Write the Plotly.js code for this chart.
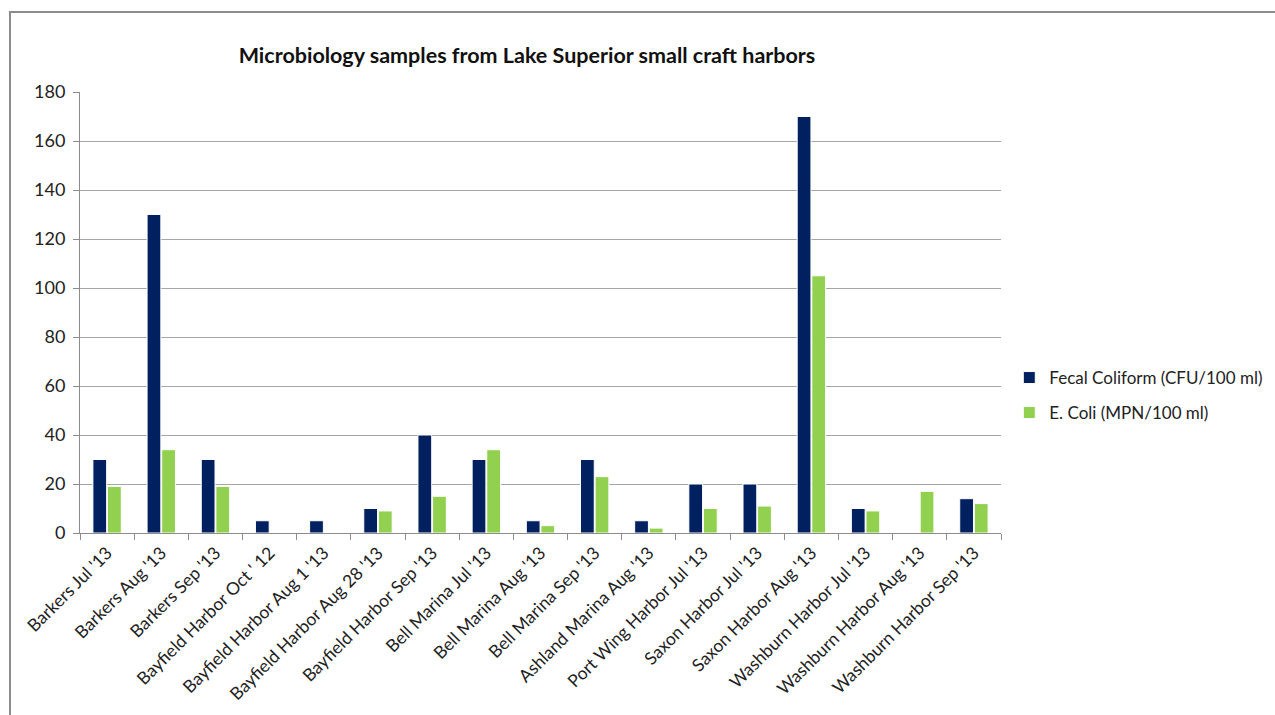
<!DOCTYPE html>
<html>
<head>
<meta charset="utf-8">
<script src="https://cdn.plot.ly/plotly-3.0.1.min.js"></script>
<style>
  html, body { margin: 0; padding: 0; background: #ffffff; overflow: hidden; }
  #frame {
    position: absolute; left: 9px; top: 11px; width: 1400px; height: 900px;
    border-left: 2px solid #8c8c8c; border-top: 2px solid #8c8c8c;
  }
  #chart { position: absolute; left: 0; top: 0; width: 1275px; height: 715px; }
</style>
</head>
<body>
<div id="frame"></div>
<div id="chart"></div>
<script>
// Sampling sites and dates
const samples = [
  "Barkers Jul '13", "Barkers Aug '13", "Barkers Sep '13",
  "Bayfield Harbor Oct ' 12", "Bayfield Harbor Aug 1 '13", "Bayfield Harbor Aug 28 '13",
  "Bayfield Harbor Sep '13", "Bell Marina Jul '13", "Bell Marina Aug '13",
  "Bell Marina Sep '13", "Ashland Marina Aug '13", "Port Wing Harbor Jul '13",
  "Saxon Harbor Jul '13", "Saxon Harbor Aug '13", "Washburn Harbor Jul '13",
  "Washburn Harbor Aug '13", "Washburn Harbor Sep '13"
];

// Fecal coliform counts (CFU/100 ml)
const fecalColiform = [30, 130, 30, 5, 5, 10, 40, 30, 5, 30, 5, 20, 20, 170, 10, 0, 14];

// E. coli counts (MPN/100 ml)
const eColi = [19, 34, 19, 0, 0, 9, 15, 34, 3, 23, 2, 10, 11, 105, 9, 17, 12];

// Value axis ticks
const yTicks = [0, 20, 40, 60, 80, 100, 120, 140, 160, 180];

const FONT = "Lato, 'Open Sans', sans-serif";

const traces = [
  {
    type: "bar", name: "Fecal Coliform (CFU/100 ml)",
    x: samples, y: fecalColiform, legend: "legend",
    marker: { color: "#002060", line: { color: "#ffffff", width: 1 } },
    hoverinfo: "x+y"
  },
  {
    type: "bar", name: "E. Coli (MPN/100 ml)",
    x: samples, y: eColi, legend: "legend2",
    marker: { color: "#92d050", line: { color: "#ffffff", width: 1 } },
    hoverinfo: "x+y"
  }
];

const legendStyle = {
  font: { family: FONT, size: 17, color: "#222222" },
  bgcolor: "rgba(0,0,0,0)", borderwidth: 0,
  xref: "paper", yref: "paper", xanchor: "left", yanchor: "middle",
  itemwidth: 30
};

const layout = {
  width: 1275, height: 715,
  paper_bgcolor: "rgba(0,0,0,0)", plot_bgcolor: "rgba(0,0,0,0)",
  margin: { l: 80, r: 274, t: 92, b: 182, autoexpand: false },
  title: {
    text: "Microbiology samples from Lake Superior small craft harbors",
    font: { family: FONT, size: 21.5, color: "#111111", weight: "bold" },
    xref: "container", yref: "container",
    x: 527 / 1275, xanchor: "center", y: 1 - 55 / 715, yanchor: "middle"
  },
  barmode: "group", bargap: 0.46, bargroupgap: 0.06,
  xaxis: {
    type: "category", tickangle: -45, tickson: "boundaries",
    ticks: "outside", ticklen: 6, tickcolor: "#8c8c8c",
    showline: true, linecolor: "#8c8c8c", linewidth: 1,
    showgrid: false, automargin: false, ticklabelstandoff: 2,
    tickfont: { family: FONT, size: 17.5, color: "#222222" }
  },
  yaxis: {
    range: [0, 180], tickvals: yTicks, ticktext: yTicks.map(String),
    ticks: "outside", ticklen: 6, tickcolor: "#8c8c8c",
    showline: true, linecolor: "#8c8c8c", linewidth: 1,
    showgrid: true, gridcolor: "#a6a6a6", gridwidth: 1,
    zeroline: false, automargin: false, ticklabelstandoff: 4,
    tickfont: { family: FONT, size: 18, color: "#222222" }
  },
  legend: Object.assign({}, legendStyle, { x: 1.009, y: (533 - 378) / 441 }),
  legend2: Object.assign({}, legendStyle, { x: 1.009, y: (533 - 413) / 441 }),
  showlegend: true
};

Plotly.newPlot("chart", traces, layout, { displayModeBar: false, staticPlot: true });
</script>
</body>
</html>
